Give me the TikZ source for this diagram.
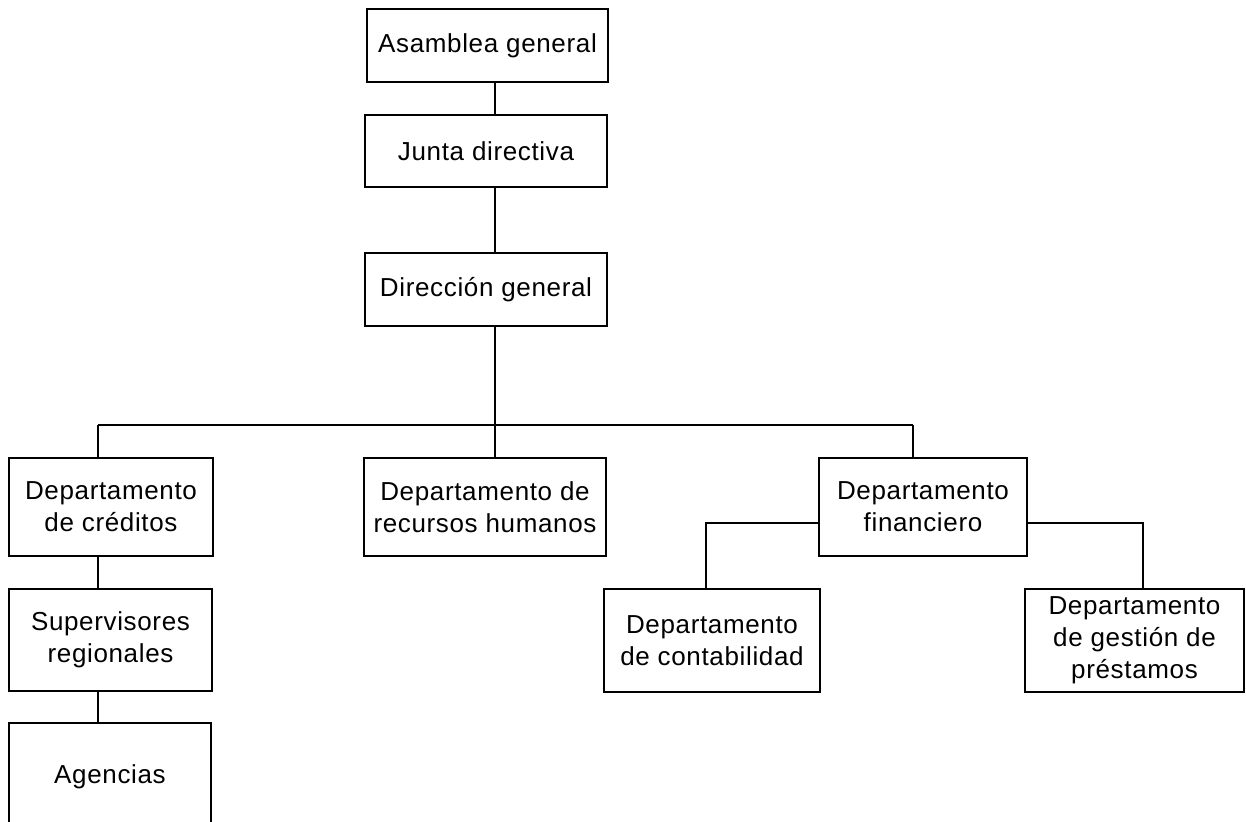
\documentclass[tikz,border=0pt]{standalone}
\usepackage{fontspec}
\setmainfont[LetterSpace=2.5]{Liberation Sans}
\begin{document}
\begin{tikzpicture}[x=1pt,y=-1pt,
  unit/.style={draw=black, line width=1.8pt, fill=white, inner sep=0pt,
    align=center, font=\fontsize{26}{32}\selectfont},
  link/.style={draw=black, line width=1.8pt}]
\useasboundingbox (0,0) rectangle (1246,821);
\clip (0,0) rectangle (1246,821);
\fill[white] (0,0) rectangle (1246,821);

% upper chain
\node[unit, minimum width=241pt, minimum height=73pt] (asamblea) at (487.5,45.5) {Asamblea general};
\node[unit, minimum width=242pt, minimum height=72pt] (junta) at (486,151) {Junta directiva};
\node[unit, minimum width=242pt, minimum height=73pt] (direccion) at (486,289.5) {Dirección general};

% departments
\node[unit, minimum width=204pt, minimum height=98pt] (creditos) at (111,507) {Departamento\\de créditos};
\node[unit, minimum width=242pt, minimum height=98pt] (rrhh) at (485,507) {Departamento de\\recursos humanos};
\node[unit, minimum width=208pt, minimum height=98pt] (financiero) at (923,507) {Departamento\\financiero};

% lower level
\node[unit, minimum width=203pt, minimum height=102pt] (supervisores) at (110.5,640) {Supervisores\\regionales};
\node[unit, minimum width=202pt, minimum height=107pt] (agencias) at (110,776.5) {Agencias};
\node[unit, minimum width=216pt, minimum height=103pt] (contabilidad) at (712,640.5) {Departamento\\de contabilidad};
\node[unit, minimum width=219pt, minimum height=103pt] (gestion) at (1134.5,640.5) {Departamento\\de gestión de\\préstamos};

% connector positions
\coordinate (sp) at (495,0);
\coordinate (bus) at (0,425);
\coordinate (cl) at (98,0);
\coordinate (cf) at (913,0);
\coordinate (side) at (0,523);
\coordinate (cc) at (706,0);
\coordinate (cg) at (1143,0);

\draw[link] (asamblea.south -| sp) -- (junta.north -| sp);
\draw[link] (junta.south -| sp) -- (direccion.north -| sp);
\draw[link] (direccion.south -| sp) -- (rrhh.north -| sp);
\draw[link] (cl |- bus) -- (cf |- bus);
\draw[link] (cl |- bus) -- (creditos.north -| cl);
\draw[link] (cf |- bus) -- (financiero.north -| cf);
\draw[link] (creditos.south -| cl) -- (supervisores.north -| cl);
\draw[link] (supervisores.south -| cl) -- (agencias.north -| cl);
\draw[link] (financiero.west |- side) -- (cc |- side) -- (contabilidad.north -| cc);
\draw[link] (financiero.east |- side) -- (cg |- side) -- (gestion.north -| cg);
\end{tikzpicture}
\end{document}
